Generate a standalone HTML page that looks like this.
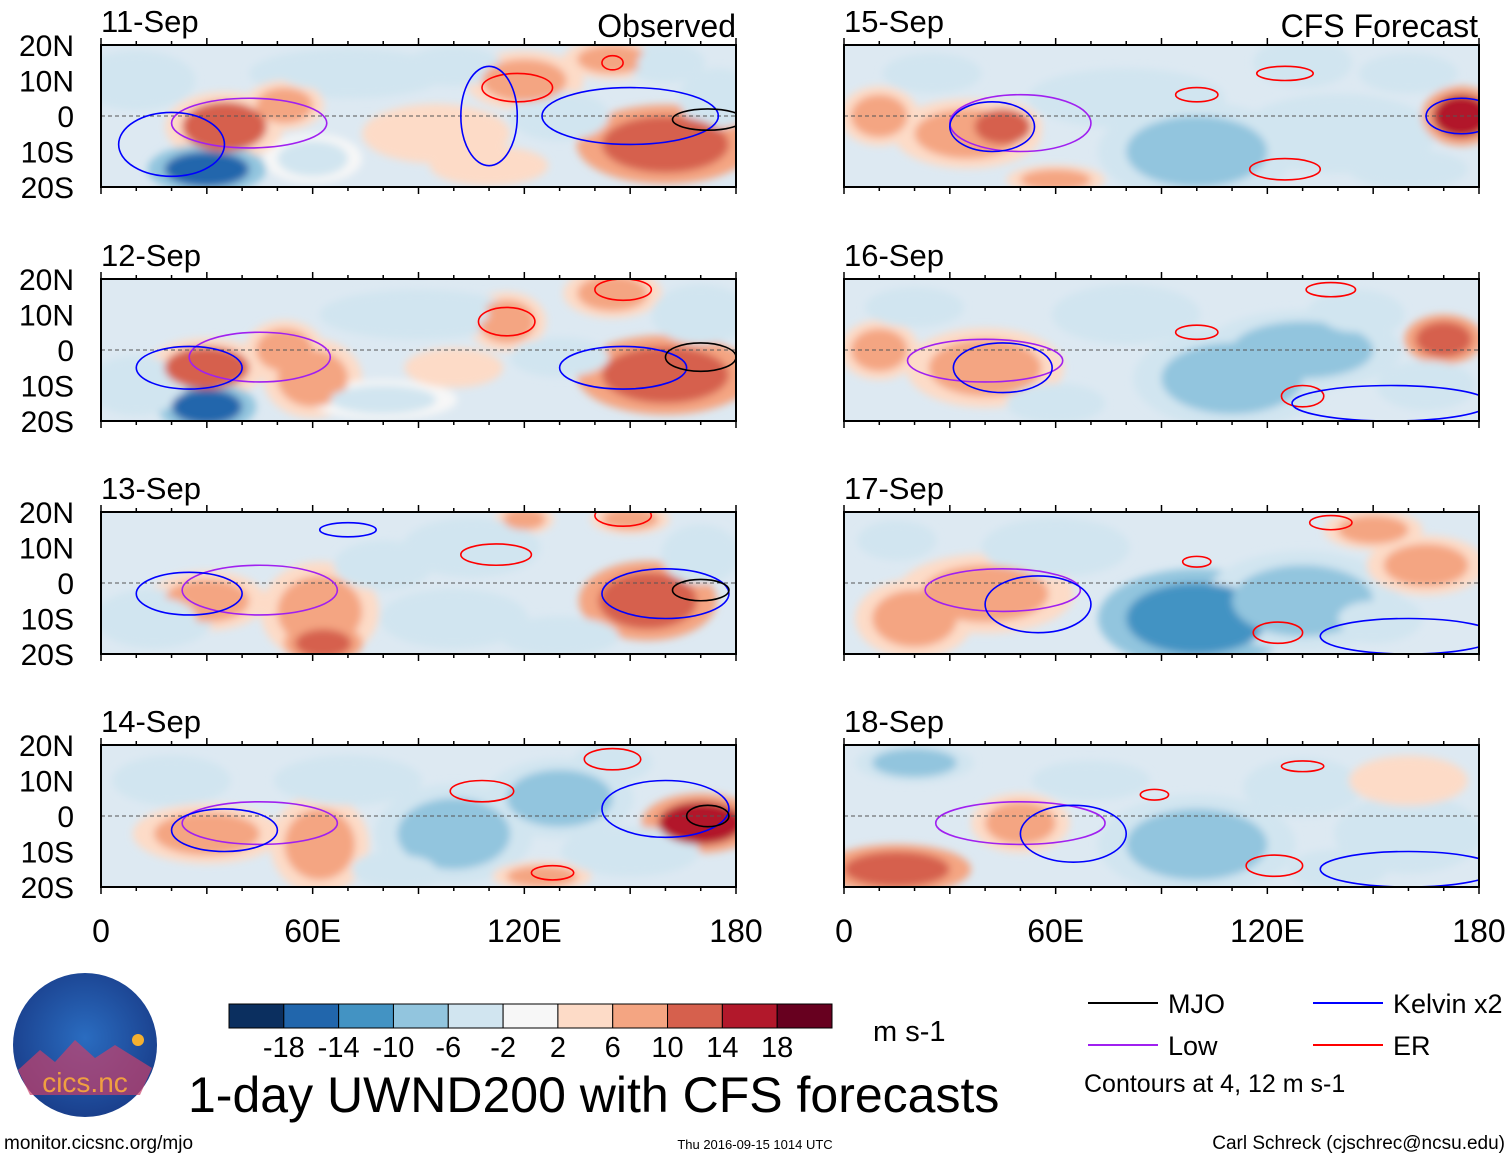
<!DOCTYPE html>
<html><head><meta charset="utf-8">
<style>
body{margin:0;background:#fff;width:1510px;height:1159px;overflow:hidden;font-family:"Liberation Sans",sans-serif}
svg{position:absolute;left:0;top:0}
</style></head>
<body>
<svg id="chart" width="1510" height="1159" viewBox="0 0 1510 1159">
<defs>
<filter id="blur" x="-20%" y="-20%" width="140%" height="140%"><feGaussianBlur stdDeviation="4"/></filter>
<radialGradient id="logoGrad" cx="50%" cy="45%" r="55%"><stop offset="0" stop-color="#2a6cc0"/><stop offset="1" stop-color="#1a3f8c"/></radialGradient>
</defs>
</svg>
<script>
// ---- data ----
const panelDates = ["11-Sep","12-Sep","13-Sep","14-Sep","15-Sep","16-Sep","17-Sep","18-Sep"];
const latTicks = [20,10,0,-10,-20];
const latLabels = ["20N","10N","0","10S","20S"];
const lonTicks = [0,60,120,180];
const lonLabels = ["0","60E","120E","180"];
const levels = [-22,-18,-14,-10,-6,-2,2,6,10,14,18,22];
const levelLabels = ["-18","-14","-10","-6","-2","2","6","10","14","18"];
const levelColors = ["#0b2f5f","#2166ac","#4393c3","#92c5de","#d1e5f0","#f7f7f7","#fddbc7","#f4a582","#d6604d","#b2182b","#67001f"];
// blobs: [lon, lat, rxDeg, ryDeg, value]
const blobs0 = [[10,10,12,6,-4],[70,12,20,5,-6],[60,-12,10,5,-3],[35,-3,12,7,10],[52,3,8,5,9],[30,-15,12,5,-18],[120,10,12,6,8],[145,16,10,4,7],[160,-8,18,8,12],[130,0,10,5,-5],[95,-5,15,6,4],[175,5,8,6,-6],[100,14,10,4,-5],[110,-14,12,4,4],[160,15,8,4,-5]];
const blobs1 = [[30,-5,12,6,10],[52,0,8,6,9],[30,-16,10,5,-18],[60,-8,10,8,6],[115,8,8,6,6],[145,16,10,5,8],[160,-7,18,8,12],[90,10,20,5,-4],[170,10,10,6,-6],[130,-2,10,4,-4],[10,-10,10,6,-5],[80,-14,15,4,-3],[100,-5,10,4,4]];
const blobs2 = [[30,-5,12,6,8],[62,-8,12,10,9],[63,-17,8,4,12],[155,-5,14,8,12],[150,18,8,3,8],[120,18,6,3,6],[105,10,14,6,-5],[100,-10,15,6,-4],[15,-10,12,6,-4],[170,8,8,6,-6],[80,5,10,5,-4],[130,-15,12,4,-4]];
const blobs3 = [[30,-5,15,6,9],[62,-8,10,10,7],[100,-5,16,10,-10],[130,5,15,8,-8],[170,-2,12,6,14],[125,-17,10,3,8],[20,10,12,5,-5],[70,10,15,5,-4],[150,-10,14,5,-6],[145,15,8,4,-4],[85,-15,10,4,-6]];
const blobs4 = [[35,-5,15,7,8],[45,-3,8,5,10],[100,-10,20,10,-10],[80,5,20,6,-6],[140,-5,20,8,-6],[175,0,8,6,14],[130,15,10,5,-5],[10,0,8,6,6],[60,-18,10,3,6],[160,12,10,4,-4],[25,12,10,4,-5],[160,-15,12,4,-6]];
const blobs5 = [[40,-5,16,8,7],[110,-8,20,10,-10],[130,0,20,8,-10],[170,3,8,5,12],[10,0,8,6,6],[80,10,15,6,-5],[145,10,10,5,-6],[20,12,10,4,-5],[165,-10,10,5,-5],[60,-15,10,4,-4]];
const blobs6 = [[40,-3,18,8,6],[100,-10,20,10,-12],[130,-5,20,10,-8],[20,-10,12,8,7],[165,5,12,6,6],[60,10,15,6,-6],[150,15,10,4,6],[15,12,8,4,-5],[150,-10,10,5,-5]];
const blobs7 = [[50,-2,10,6,8],[100,-8,20,10,-10],[15,-15,15,5,12],[130,8,12,6,-5],[160,-5,15,8,-5],[20,15,12,4,-7],[160,10,12,5,4],[70,10,12,4,-5],[140,-15,10,4,-4]];
const blobSets = [blobs0,blobs1,blobs2,blobs3,blobs4,blobs5,blobs6,blobs7];
// contours: [type, lon, lat, rxDeg, ryDeg]
const cont0 = [["l",42,-2,22,7],["k",20,-8,15,9],["e",118,8,10,4],["e",145,15,3,2],["k",150,0,25,8],["m",172,-1,10,3],["k",110,0,8,14]];
const cont1 = [["l",45,-2,20,7],["k",25,-5,15,6],["e",115,8,8,4],["e",148,17,8,3],["k",148,-5,18,6],["m",170,-2,10,4]];
const cont2 = [["l",45,-2,22,7],["k",25,-3,15,6],["e",112,8,10,3],["e",148,19,8,3],["k",160,-3,18,7],["m",170,-2,8,3],["k",70,15,8,2]];
const cont3 = [["l",45,-2,22,6],["k",35,-4,15,6],["e",108,7,9,3],["e",145,16,8,3],["k",160,2,18,8],["m",172,0,6,3],["e",128,-16,6,2]];
const cont4 = [["l",50,-2,20,8],["k",42,-3,12,7],["e",125,12,8,2],["e",100,6,6,2],["k",175,0,10,5],["e",125,-15,10,3]];
const cont5 = [["l",40,-3,22,6],["k",45,-5,14,7],["e",138,17,7,2],["e",100,5,6,2],["e",130,-13,6,3],["k",155,-15,28,5]];
const cont6 = [["l",45,-2,22,6],["k",55,-6,15,8],["e",138,17,6,2],["e",100,6,4,1.5],["e",123,-14,7,3],["k",160,-15,25,5]];
const cont7 = [["l",50,-2,24,6],["k",65,-5,15,8],["e",130,14,6,1.5],["e",88,6,4,1.5],["e",122,-14,8,3],["k",160,-15,25,5]];
const contSets = [cont0,cont1,cont2,cont3,cont4,cont5,cont6,cont7];
const contColors = {m:"#000000",l:"#a020f0",k:"#0000ff",e:"#ff0000"};

// ---- layout ----
const NS="http://www.w3.org/2000/svg";
const svg=document.getElementById("chart");
const PW=635, PH=142;
const colX=[101,844], rowY=[45,279,512,745];
function el(tag,attrs,parent){const e=document.createElementNS(NS,tag);for(const k in attrs)e.setAttribute(k,attrs[k]);(parent||svg).appendChild(e);return e;}
function colorFor(v){for(let i=0;i<levels.length-1;i++){if(v<levels[i+1])return levelColors[i];}return levelColors[levelColors.length-1];}

panelDates.forEach((d,i)=>{
  const col=i<4?0:1,row=i%4;
  const x0=colX[col],y0=rowY[row];
  const xs=lon=>x0+lon/180*PW;
  const ys=lat=>y0+(20-lat)/40*PH;
  const g=el("g",{});
  
  
  const cid="clip"+i;
  const cp=el("clipPath",{id:cid},g);el("rect",{x:x0,y:y0,width:PW,height:PH},cp);
  const inner=el("g",{"clip-path":"url(#"+cid+")"},g);
  el("rect",{x:x0,y:y0,width:PW,height:PH,fill:"#dde9f2"},inner);
  const fg=el("g",{filter:"url(#blur)"},inner);
  blobSets[i].forEach(b=>{
    const e1=el("ellipse",{cx:xs(b[0]),cy:ys(b[1]),rx:b[2]/180*PW*1.4,ry:b[3]/40*PH*1.4,fill:colorFor(b[4]*0.55)},fg);
    
    
  });
  blobSets[i].forEach(b=>{
    const e2=el("ellipse",{cx:xs(b[0]),cy:ys(b[1]),rx:b[2]/180*PW,ry:b[3]/40*PH,fill:colorFor(b[4])},fg);
    
    
  });
  el("line",{x1:x0,x2:x0+PW,y1:ys(0),y2:ys(0),stroke:"#555","stroke-dasharray":"4,3","stroke-width":1},inner);
  contSets[i].forEach(c=>{
    const ce=el("ellipse",{cx:xs(c[1]),cy:ys(c[2]),rx:c[3]/180*PW,ry:c[4]/40*PH,fill:"none",stroke:contColors[c[0]],"stroke-width":1.6},inner);
    
    
  });
  el("rect",{x:x0,y:y0,width:PW,height:PH,fill:"none",stroke:"#000","stroke-width":2},g);
  for(let lon=0;lon<=180;lon+=10){
    const L=(lon%30===0)?7:4;
    el("line",{x1:xs(lon),x2:xs(lon),y1:y0,y2:y0-L,stroke:"#000","stroke-width":1.5},g);
    el("line",{x1:xs(lon),x2:xs(lon),y1:y0+PH,y2:y0+PH+L,stroke:"#000","stroke-width":1.5},g);
  }
  const t=el("text",{x:x0,y:y0-13,"font-size":31,fill:"#000"},g);t.textContent=d;
  
  
  if(col===0){
    latTicks.forEach((lt,k)=>{
      const tl=el("text",{x:74,y:ys(lt)+11,"font-size":30,"text-anchor":"end",fill:"#000"},g);tl.textContent=latLabels[k];
      
      
    });
  }
  if(row===3){
    lonTicks.forEach((ln,k)=>{
      const tl=el("text",{x:xs(ln),y:942,"font-size":32,"text-anchor":"middle",fill:"#000"},g);tl.textContent=lonLabels[k];
      
      
    });
  }
});
const obs=el("text",{x:736,y:37,"font-size":32,"text-anchor":"end"});obs.textContent="Observed";


const fc=el("text",{x:1478,y:37,"font-size":32,"text-anchor":"end"});fc.textContent="CFS Forecast";



const cbX=229,cbY=1004,cbW=603,cbH=24,bw=cbW/levelColors.length;
const cb=el("g",{});


levelColors.forEach((c,k)=>{el("rect",{x:cbX+k*bw,y:cbY,width:bw,height:cbH,fill:c,stroke:"#000","stroke-width":1},cb);});
levelLabels.forEach((s,k)=>{
  const tl=el("text",{x:cbX+(k+1)*bw,y:1057,"font-size":29,"text-anchor":"middle"},cb);tl.textContent=s;
  
  
});
const un=el("text",{x:873,y:1041,"font-size":29});un.textContent="m s-1";


const ti=el("text",{x:188,y:1112,"font-size":50});ti.textContent="1-day UWND200 with CFS forecasts";



const legendItems=[["MJO","#000",1088,1003],["Low","#a020f0",1088,1045],["Kelvin x2","#0000ff",1313,1003],["ER","#ff0000",1313,1045]];
legendItems.forEach(li=>{
  const lg=el("g",{});
  
  
  el("line",{x1:li[2],x2:li[2]+70,y1:li[3],y2:li[3],stroke:li[1],"stroke-width":2},lg);
  const tt=el("text",{x:li[2]+80,y:li[3]+10,"font-size":27},lg);tt.textContent=li[0];
});
const ca=el("text",{x:1084,y:1092,"font-size":25});ca.textContent="Contours at 4, 12 m s-1";



const lgo=el("g",{});


el("circle",{cx:85,cy:1045,r:72,fill:"url(#logoGrad)"},lgo);
el("path",{d:"M18,1070 L40,1050 L55,1062 L75,1040 L95,1058 L115,1045 L152,1068 L140,1095 L30,1095 Z",fill:"#c9406a",opacity:0.7},lgo);
el("circle",{cx:138,cy:1040,r:6,fill:"#f4b030"},lgo);
const lt=el("text",{x:85,y:1092,"font-size":28,"text-anchor":"middle",fill:"#f0a040"},lgo);lt.textContent="cics.nc";

const f1=el("text",{x:4,y:1149,"font-size":19});f1.textContent="monitor.cicsnc.org/mjo";


const f2=el("text",{x:755,y:1149,"font-size":13,"text-anchor":"middle"});f2.textContent="Thu 2016-09-15 1014 UTC";


const f3=el("text",{x:1505,y:1149,"font-size":19,"text-anchor":"end"});f3.textContent="Carl Schreck (cjschrec@ncsu.edu)";


</script>
</body></html>
